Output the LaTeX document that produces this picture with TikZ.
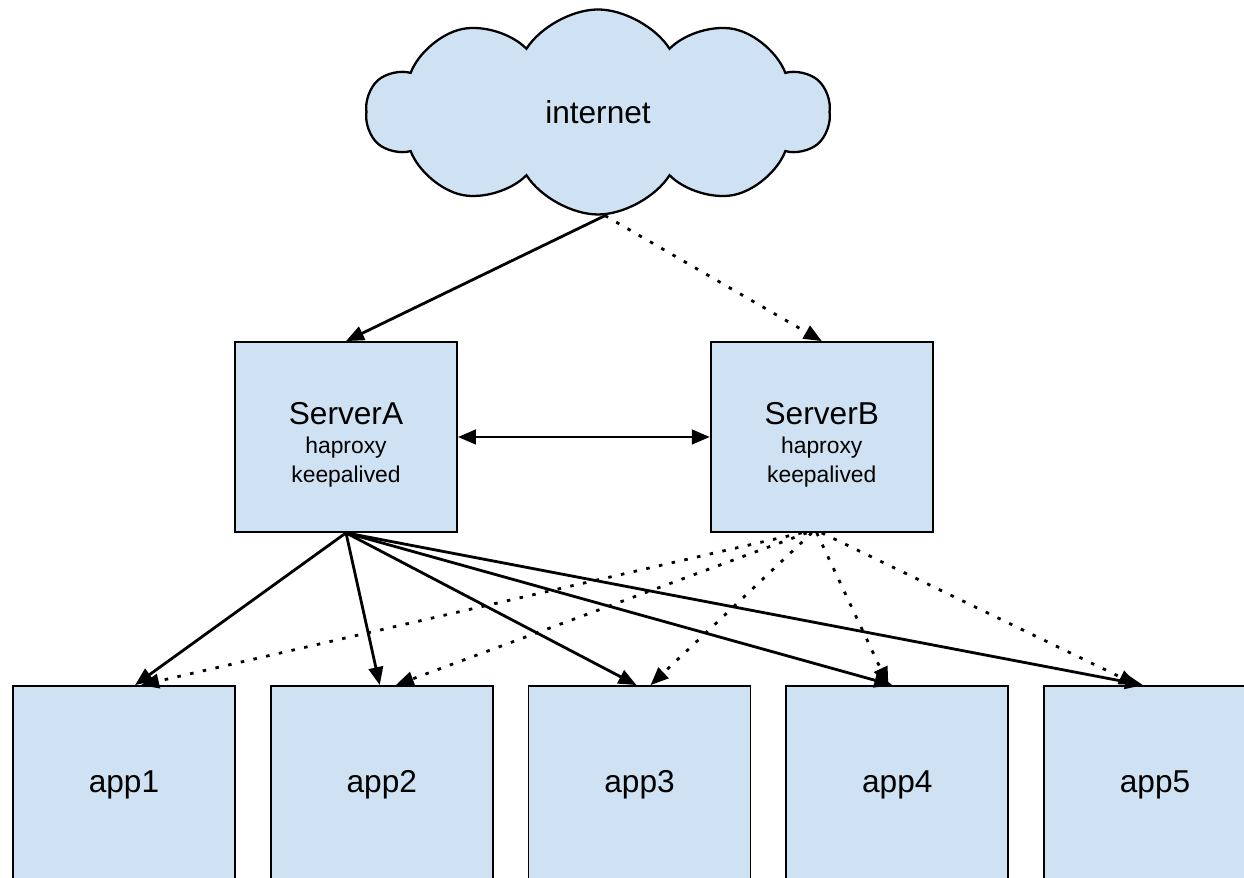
\documentclass[tikz,border=0pt]{standalone}
\usepackage{fontspec}
\setmainfont{Liberation Sans}
\usetikzlibrary{arrows.meta, positioning, shapes.symbols}
\definecolor{boxblue}{RGB}{207,226,243}

\begin{document}
\begin{tikzpicture}[
    node distance=0.68cm,
    block/.style={rectangle, draw, line width=1pt, fill=boxblue, minimum width=4.44cm,
                  minimum height=3.8cm, align=center, font=\fontsize{18}{22}\selectfont},
    app/.style={block, minimum height=3.96cm},
    arrow/.style={-{Triangle[length=3.6mm, width=2.9mm]}, line width=1.6pt},
    backup/.style={arrow, dash pattern=on 2pt off 5.4pt}
]
    \useasboundingbox (0,0) rectangle (24.88,17.56);
    \node[cloud, draw, line width=1.3pt, fill=boxblue, cloud puffs=10, cloud puff arc=115,
          minimum width=9.26cm, minimum height=4.1cm, font=\fontsize{18}{22}\selectfont]
          (net) at (11.96,15.32) {internet};
    \node[block] (srvA) at (6.92,8.82)
        {\rule{0pt}{21pt}ServerA\\[-5pt]{\fontsize{13}{16}\selectfont haproxy}\\[-6pt]{\fontsize{13}{16}\selectfont keepalived}};
    \node[block, right=5.04cm of srvA] (srvB)
        {\rule{0pt}{21pt}ServerB\\[-5pt]{\fontsize{13}{16}\selectfont haproxy}\\[-6pt]{\fontsize{13}{16}\selectfont keepalived}};
    \node[app] (app1) at (2.48,1.86) {app1};
    \node[app, right=of app1] (app2) {app2};
    \node[app, right=of app2] (app3) {app3};
    \node[app, right=of app3] (app4) {app4};
    \node[app, right=of app4] (app5) {app5};

    \draw[arrow] ([xshift=0.14cm]net.south) -- (srvA.north);
    \draw[backup] ([xshift=0.14cm]net.south) -- (srvB.north);
    \draw[arrow, {Triangle[length=3.6mm, width=2.9mm]}-{Triangle[length=3.6mm, width=2.9mm]}] (srvA) -- (srvB);

    \draw[arrow] (srvA.south) -- ([xshift=0.22cm]app1.north);
    \draw[arrow] (srvA.south) -- ([xshift=-0.04cm]app2.north);
    \draw[arrow] (srvA.south) -- ([xshift=-0.06cm]app3.north);
    \draw[arrow] (srvA.south) -- ([xshift=-0.10cm]app4.north);
    \draw[arrow] (srvA.south) -- ([xshift=-0.24cm]app5.north);
    \draw[backup] ([xshift=-0.4cm]srvB.south) -- ([xshift=0.34cm]app1.north);
    \draw[backup] ([xshift=-0.3cm]srvB.south) -- ([xshift=0.28cm]app2.north);
    \draw[backup] ([xshift=-0.2cm]srvB.south) -- ([xshift=0.22cm]app3.north);
    \draw[backup] ([xshift=-0.1cm]srvB.south) -- ([xshift=-0.18cm]app4.north);
    \draw[backup] (srvB.south) -- ([xshift=-0.36cm]app5.north);
\end{tikzpicture}
\end{document}
